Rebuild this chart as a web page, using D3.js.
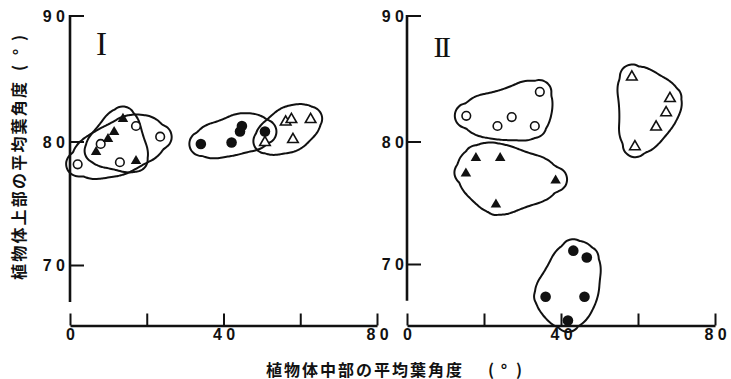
<!DOCTYPE html>
<html>
<head>
<meta charset="utf-8">
<script src="https://cdn.jsdelivr.net/npm/d3@7"></script>
<style>
  html, body { margin: 0; padding: 0; background: #fff; }
  svg { display: block; }
</style>
</head>
<body>
<svg id="chart" width="731" height="379"></svg>
<script>
// ---- axis ticks and labels ----
const xTicks = [0, 20, 40, 60, 80];
const xTickLabels = ["0", "", "4 0", "", "8 0"];
const yTicks = [70, 80, 90];
const yTickLabels = ["7 0", "8 0", "9 0"];
const panelNames = ["I", "II"];
const xTitle = "植物体中部の平均葉角度";
const yTitle = "植物体上部の平均葉角度";
const unitParts = ["(", "°", ")"];

// ---- panel I: [middle-leaf angle, upper-leaf angle] ----
const p1OpenCircles     = [[2.0, 78.15], [8.0, 79.8], [13.0, 78.32], [17.2, 81.23], [23.5, 80.38]];
const p1FilledTriangles = [[6.8, 79.23], [9.9, 80.28], [11.5, 80.83], [13.8, 81.87], [17.2, 78.5]];
const p1FilledCircles   = [[34.1, 79.8], [42.1, 79.92], [44.3, 80.79], [44.8, 81.23], [50.8, 80.79]];
const p1OpenTriangles   = [[50.8, 80.0], [56.2, 81.63], [57.7, 81.83], [62.7, 81.83], [58.1, 80.24]];

// ---- panel II ----
const p2OpenCircles     = [[15.4, 82.04], [23.5, 81.23], [27.2, 81.94], [33.2, 81.23], [34.5, 83.94]];
const p2FilledTriangles = [[17.9, 78.73], [24.2, 78.73], [15.3, 77.47], [38.6, 76.9], [23.1, 74.94]];
const p2OpenTriangles   = [[58.4, 85.2], [68.3, 83.49], [67.3, 82.37], [64.7, 81.23], [59.2, 79.66]];
const p2FilledCircles   = [[43.2, 71.09], [46.7, 70.53], [36.0, 67.33], [46.1, 67.33], [41.8, 65.39]];

const panelData = [
  [
    { kind: "openCircle", pts: p1OpenCircles },
    { kind: "filledTriangle", pts: p1FilledTriangles },
    { kind: "filledCircle", pts: p1FilledCircles },
    { kind: "openTriangle", pts: p1OpenTriangles }
  ],
  [
    { kind: "openCircle", pts: p2OpenCircles },
    { kind: "filledTriangle", pts: p2FilledTriangles },
    { kind: "openTriangle", pts: p2OpenTriangles },
    { kind: "filledCircle", pts: p2FilledCircles }
  ]
];

// ---- layout ----
const layout = [
  { xRange: [70, 377], yRange: [265, 141.5, 15.5], labelPad: 5, nameX: 101.5, nameY: 55, nameSize: 33 },
  { xRange: [407, 715], yRange: [264, 141.5, 15.5], labelPad: 3, nameX: 441, nameY: 56.5, nameSize: 30 }
];
const xAxisY = 325.5;
const yAxisMin = 67;
const INK = "#111";
const numFont = "'Liberation Sans', Arial, sans-serif";
const cjkFont = "'Noto Sans CJK JP', 'Noto Sans CJK SC', sans-serif";

const svg = d3.select("#chart");
const triangle = d3.symbol().type(d3.symbolTriangle);

// Rounded outline around a set of pixel points: padded convex hull,
// then its radius profile is smoothed so the sides bulge like a hand-drawn loop.
function loopAround(pixelPts, pad) {
  const ring = [];
  pixelPts.forEach(([cx, cy]) => {
    for (let k = 0; k < 36; k++) {
      const t = (k / 36) * 2 * Math.PI;
      ring.push([cx + pad * Math.cos(t), cy + pad * Math.sin(t)]);
    }
  });
  const hull = d3.polygonHull(ring);
  const [ox, oy] = d3.polygonCentroid(hull);
  const N = 120;
  const radii = [];
  for (let i = 0; i < N; i++) {
    const t = (i / N) * 2 * Math.PI;
    const dx = Math.cos(t), dy = Math.sin(t);
    let best = 0;
    for (let j = 0; j < hull.length; j++) {
      const [ax, ay] = hull[j], [bx, by] = hull[(j + 1) % hull.length];
      const ex = bx - ax, ey = by - ay;
      const den = dx * ey - dy * ex;
      if (Math.abs(den) < 1e-9) continue;
      const r = ((ax - ox) * ey - (ay - oy) * ex) / den;
      const s = ((ax - ox) * dy - (ay - oy) * dx) / den;
      if (r > 0 && s >= -1e-6 && s <= 1 + 1e-6) best = Math.max(best, r);
    }
    radii.push(best);
  }
  const w = 9;
  const pts = radii.map((r, i) => {
    let sum = 0;
    for (let j = -w; j <= w; j++) sum += radii[(i + j + N) % N];
    const rr = Math.max(sum / (2 * w + 1), r - 1.5);
    const t = (i / N) * 2 * Math.PI;
    return [ox + rr * Math.cos(t), oy + rr * Math.sin(t)];
  });
  return d3.line().curve(d3.curveCatmullRomClosed.alpha(0.5))(pts);
}

const numStyle = sel => sel
  .style("font-family", numFont).style("font-size", "16px").style("font-weight", "bold")
  .style("white-space", "pre").attr("xml:space", "preserve")
  .attr("fill", INK);

layout.forEach((L, i) => {
  const x = d3.scaleLinear().domain([0, 80]).range(L.xRange);
  const y = d3.scaleLinear().domain([70, 80, 90]).range(L.yRange);
  const g = svg.append("g");

  // y axis: ticks pointing inward, labels on the left
  const yAxis = d3.axisLeft(y)
    .tickValues(yTicks)
    .tickSizeInner(-14)
    .tickSizeOuter(0)
    .tickPadding(L.labelPad)
    .tickFormat((d, k) => yTickLabels[k]);
  const ya = g.append("g").attr("transform", `translate(${x(0)},0)`).call(yAxis);
  ya.select(".domain").remove();
  ya.selectAll(".tick line").attr("stroke", INK).attr("stroke-width", 2);
  ya.selectAll(".tick text").call(numStyle).attr("dy", "0.36em");
  g.append("line")
    .attr("x1", x(0)).attr("x2", x(0))
    .attr("y1", y(90) - 0.5).attr("y2", y(yAxisMin))
    .attr("stroke", INK).attr("stroke-width", 2.6);

  // x axis: separate line below, ticks upward
  const xAxis = d3.axisBottom(x)
    .tickValues(xTicks)
    .tickSizeInner(-12)
    .tickSizeOuter(0)
    .tickPadding(3)
    .tickFormat((d, k) => xTickLabels[k]);
  const xa = g.append("g").attr("transform", `translate(0,${xAxisY})`).call(xAxis);
  xa.select(".domain").attr("stroke", INK).attr("stroke-width", 2.4);
  xa.selectAll(".tick line").attr("stroke", INK).attr("stroke-width", 2);
  xa.selectAll(".tick text").call(numStyle);

  // panel numeral
  g.append("text")
    .attr("x", L.nameX).attr("y", L.nameY)
    .attr("text-anchor", "middle")
    .style("font-family", "'Liberation Serif', 'Times New Roman', serif")
    .style("font-size", L.nameSize + "px")
    .style("letter-spacing", i === 1 ? "-2.5px" : "0px")
    .attr("fill", INK)
    .text(panelNames[i]);

  // group outlines
  panelData[i].forEach(grp => {
    g.append("path")
      .attr("d", loopAround(grp.pts.map(d => [x(d[0]), y(d[1])]), 13))
      .attr("fill", "none")
      .attr("stroke", INK)
      .attr("stroke-width", 2);
  });

  // markers
  panelData[i].forEach(grp => {
    const isTri = grp.kind.includes("Triangle");
    const sel = g.append("g").selectAll("path").data(grp.pts).join("path")
      .attr("transform", d => `translate(${x(d[0])},${y(d[1]) + (isTri ? 1 : 0)})`);
    if (grp.kind === "openCircle") {
      sel.attr("d", d3.symbol().type(d3.symbolCircle).size(Math.PI * 4.3 * 4.3)())
        .attr("fill", "#fff").attr("stroke", INK).attr("stroke-width", 1.6);
    } else if (grp.kind === "filledCircle") {
      sel.attr("d", d3.symbol().type(d3.symbolCircle).size(Math.PI * 5.3 * 5.3)())
        .attr("fill", INK);
    } else if (grp.kind === "filledTriangle") {
      sel.attr("d", triangle.size(48)()).attr("fill", INK);
    } else {
      sel.attr("d", triangle.size(48)())
        .attr("fill", "#fff").attr("stroke", INK).attr("stroke-width", 1.6);
    }
  });
});

// axis titles
const titleStyle = sel => sel
  .style("font-family", cjkFont).style("font-size", "16px").style("font-weight", "bold")
  .attr("fill", INK);

svg.append("text")
  .attr("x", 266).attr("y", 375.5)
  .style("letter-spacing", "2px")
  .call(titleStyle)
  .text(xTitle);
// unit "( ° )" spread out after the title
const xUnitPos = [491, 504, 519];
unitParts.forEach((u, k) => {
  svg.append("text")
    .attr("x", xUnitPos[k]).attr("y", 375.5)
    .attr("text-anchor", "middle")
    .call(titleStyle)
    .text(u);
});

const yTitleG = svg.append("g").attr("transform", "translate(24.5,280) rotate(-90)");
yTitleG.append("text")
  .attr("x", 0).attr("y", 0)
  .style("letter-spacing", "2.2px")
  .call(titleStyle)
  .text(yTitle);
const yUnitPos = [212, 228, 242];
unitParts.forEach((u, k) => {
  yTitleG.append("text")
    .attr("x", yUnitPos[k]).attr("y", 0)
    .attr("text-anchor", "middle")
    .call(titleStyle)
    .text(u);
});
</script>
</body>
</html>
